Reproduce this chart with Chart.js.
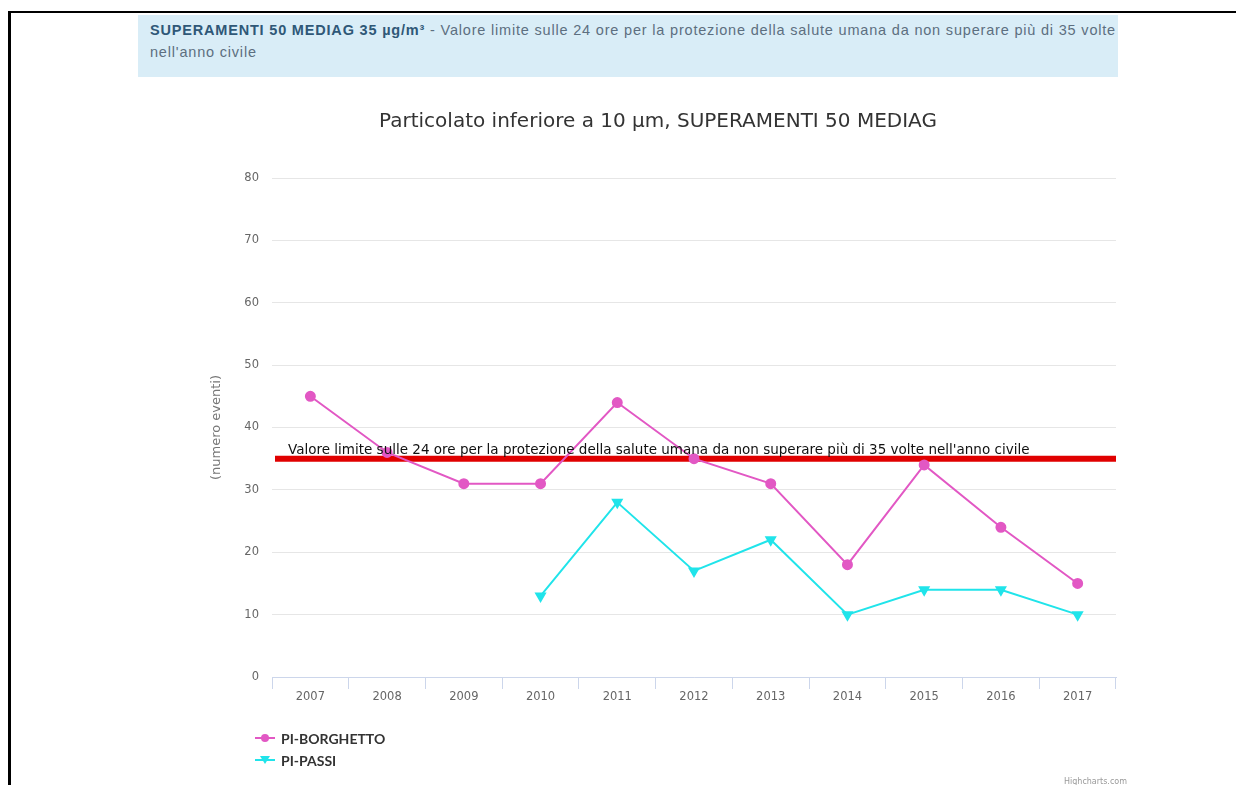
<!DOCTYPE html>
<html>
<head>
<meta charset="utf-8">
<script src="https://cdn.jsdelivr.net/npm/chart.js@4.4.0/dist/chart.umd.min.js"></script>
<style>
  html, body { margin: 0; padding: 0; background: #fff; }
  body { width: 1236px; height: 785px; position: relative; overflow: hidden; }
  #frameTop { position: absolute; left: 8px; top: 11px; width: 1228px; height: 2px; background: #000; }
  #frameLeft { position: absolute; left: 8px; top: 11px; width: 3px; height: 774px; background: #000; }
  #header { position: absolute; left: 138px; top: 15px; width: 980px; height: 62px; background: #d9edf7;
            font-family: "Liberation Sans", Arial, sans-serif; font-size: 14.5px; line-height: 22px; color: #5d6f80;
            box-sizing: border-box; padding: 4px 0 0 12px; white-space: nowrap; }
  #header b { color: #2f5877; }
  #chartWrap { position: absolute; left: 0; top: 0; width: 1236px; height: 785px; }
  #legend { position: absolute; left: 255px; top: 727px; font-family: Lato, "DejaVu Sans", sans-serif; font-weight: bold; font-size: 14px; color: #333; }
  .li { height: 22px; display: flex; align-items: center; }
  .sym { width: 20px; height: 20px; margin-right: 6px; }
  #credit { position: absolute; left: 1064px; top: 777px; font-family: "DejaVu Sans", sans-serif; font-size: 8px; color: #999; }
</style>
</head>
<body>
<div id="header"><span id="hl1"><b>SUPERAMENTI 50 MEDIAG 35 µg/m³</b> - Valore limite sulle 24 ore per la protezione della salute umana da non superare più di 35 volte</span><br><span id="hl2">nell'anno civile</span></div>
<div id="chartWrap"><canvas id="c" width="1236" height="785"></canvas></div>
<div id="legend"></div>
<div id="credit">Highcharts.com</div>
<div id="frameTop"></div>
<div id="frameLeft"></div>
<script>
const years = ['2007','2008','2009','2010','2011','2012','2013','2014','2015','2016','2017'];
const borghetto = [45, 36, 31, 31, 44, 35, 31, 18, 34, 24, 15];
const passi = [null, null, null, 13, 28, 17, 22, 10, 14, 14, 10];
const seriesNames = ['PI-BORGHETTO', 'PI-PASSI'];
const yMin = 0, yMax = 80, yStep = 10;
const limitValue = 35;
const limitLabel = "Valore limite sulle 24 ore per la protezione della salute umana da non superare più di 35 volte nell'anno civile";
const chartTitle = 'Particolato inferiore a 10 µm, SUPERAMENTI 50 MEDIAG';
const yTitle = '(numero eventi)';

const pink = '#e258c4';
const cyan = '#20e4ea';

// stretch header first line to the reference width
(function () {
  const l1 = document.getElementById('hl1');
  const w = l1.getBoundingClientRect().width;
  const n = l1.textContent.length;
  const ls = (966 - w) / n;
  document.getElementById('header').style.letterSpacing = ls + 'px';
})();

const limitPlugin = {
  id: 'limitLine',
  beforeDatasetsDraw(chart) {
    const {ctx, chartArea, scales} = chart;
    const y = scales.y.getPixelForValue(limitValue);
    ctx.save();
    ctx.strokeStyle = '#e00000';
    ctx.lineWidth = 6;
    ctx.beginPath();
    ctx.moveTo(chartArea.left + 3, y);
    ctx.lineTo(chartArea.right, y);
    ctx.stroke();
    ctx.restore();
  },
  afterDatasetsDraw(chart) {
    const {ctx, chartArea, scales} = chart;
    const y = scales.y.getPixelForValue(limitValue);
    ctx.save();
    ctx.fillStyle = '#111';
    ctx.font = '13.5px "DejaVu Sans", sans-serif';
    ctx.textBaseline = 'alphabetic';
    ctx.textAlign = 'left';
    ctx.fillText(limitLabel, chartArea.left + 16, y - 5);
    ctx.restore();
  }
};

const chart = new Chart(document.getElementById('c'), {
  type: 'line',
  data: {
    labels: years,
    datasets: [
      { label: seriesNames[0], data: borghetto, borderColor: pink, backgroundColor: pink,
        borderWidth: 2, pointStyle: 'circle', pointRadius: 4.5, pointHoverRadius: 4.5, tension: 0 },
      { label: seriesNames[1], data: passi, borderColor: cyan, backgroundColor: cyan,
        borderWidth: 2, pointStyle: 'triangle', pointRotation: 180, pointRadius: 5, pointHoverRadius: 5, tension: 0 }
    ]
  },
  options: {
    responsive: false,
    animation: false,
    layout: { padding: { left: 200, right: 120, top: 100, bottom: 78 } },
    plugins: {
      legend: { display: false },
      tooltip: { enabled: false },
      title: { display: true, text: chartTitle, color: '#333',
               font: { family: '"DejaVu Sans", sans-serif', size: 20, weight: 'normal' },
               padding: { top: 10, bottom: 44 } }
    },
    scales: {
      x: {
        type: 'category',
        offset: true,
        afterFit(s) { s.height = 30; },
        grid: { offset: true, drawOnChartArea: false, drawTicks: true, tickLength: 12, color: '#ccd6eb' },
        border: { display: true, color: '#ccd6eb', width: 1 },
        ticks: { color: '#666', padding: 1, font: { family: '"DejaVu Sans", sans-serif', size: 11.5 }, maxRotation: 0 }
      },
      y: {
        min: yMin, max: yMax,
        afterFit(s) { s.width = 72; },
        grid: { color: '#e6e6e6', drawTicks: false, lineWidth: 1 },
        border: { display: false },
        ticks: { stepSize: yStep, color: '#666', padding: 13, font: { family: '"DejaVu Sans", sans-serif', size: 11.5 } },
        title: { display: true, text: yTitle, color: '#777', padding: { top: 9, bottom: 0 },
                 font: { family: '"DejaVu Sans", sans-serif', size: 13 } }
      }
    }
  },
  plugins: [limitPlugin]
});

// HTML legend generated from the datasets
const legend = document.getElementById('legend');
chart.data.datasets.forEach((ds) => {
  const row = document.createElement('div');
  row.className = 'li';
  const cv = document.createElement('canvas');
  cv.width = 20; cv.height = 20; cv.className = 'sym';
  const g = cv.getContext('2d');
  g.strokeStyle = ds.borderColor; g.lineWidth = 2;
  g.beginPath(); g.moveTo(0, 10); g.lineTo(20, 10); g.stroke();
  g.fillStyle = ds.backgroundColor;
  g.beginPath();
  if (ds.pointStyle === 'circle') { g.arc(10, 10, 4, 0, Math.PI * 2); }
  else { g.moveTo(5, 6); g.lineTo(15, 6); g.lineTo(10, 14); g.closePath(); }
  g.fill();
  row.appendChild(cv);
  const t = document.createElement('span');
  t.textContent = ds.label;
  row.appendChild(t);
  legend.appendChild(row);
});
</script>
</body>
</html>
